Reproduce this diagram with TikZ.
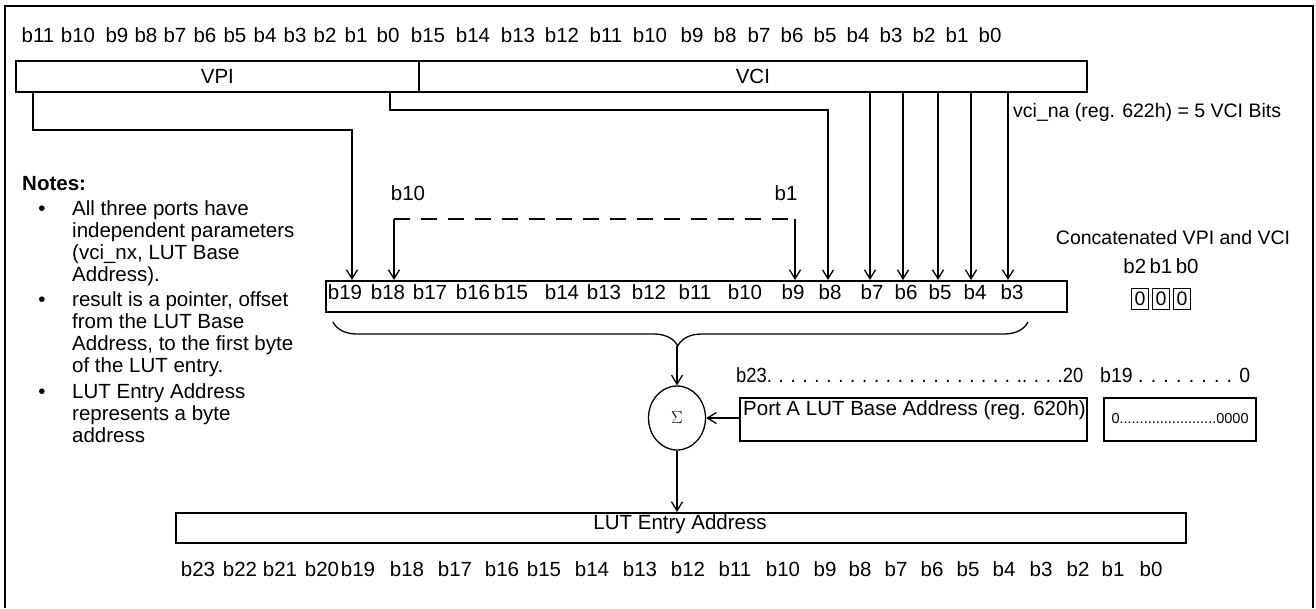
\documentclass[tikz,border=0pt]{standalone}
\usepackage{fontspec}
\setmainfont{Liberation Sans}
\usetikzlibrary{arrows.meta,decorations.pathreplacing,shapes.geometric}
\newcommand\fs{\fontsize{20.5}{23}\selectfont}
\newcommand\fsm{\fontsize{19.5}{22}\selectfont}
\begin{document}
\begin{tikzpicture}[x=1pt,y=-1pt,
  box/.style={draw,line width=1.8pt,inner sep=0pt,font=\fs},
  lbl/.style={inner sep=0pt,anchor=mid,font=\fs},
  ltxt/.style={inner sep=0pt,anchor=mid west,font=\fs},
  arr/.style={line width=1.3pt,-{Straight Barb[length=9pt,width=11pt]}},
  dashpat/.style={line width=1.3pt,dash pattern=on 16pt off 11pt}]
\useasboundingbox (0,0) rectangle (1316,608);
% outer frame (open at bottom)
\draw[line width=2.2pt] (5,608) -- (5,6) -- (1313,6) -- (1313,608);

% top bit labels
\foreach \n/\x in {11/38,10/78,9/117,8/146,7/175,6/205,5/235,4/265,3/295,2/325,1/356,0/388}
  \node[lbl] (pv\n) at (\x,40) {b\n};
\foreach \n/\x in {15/428,14/473,13/518,12/562,11/606,10/650,9/692,8/725,7/759,6/792,5/825,4/858,3/891,2/924,1/957,0/990}
  \node[lbl] (cv\n) at (\x,40) {b\n};

% VPI / VCI register
\node[box,anchor=north west,minimum width=403pt,minimum height=31pt] (vpi) at (15,60) {VPI};
\node[box,anchor=north west,minimum width=668pt,minimum height=31pt] (vci) at (418,60) {VCI};

\node[ltxt,font=\fsm] (vcina) at (1013,115) {vci\_na (reg. 622h) = 5 VCI Bits};

% concatenated register
\node[box,anchor=north west,minimum width=741pt,minimum height=31pt] (reg) at (325,280) {};
\foreach \n/\x in {19/345,18/388,17/430,16/473,15/511,14/562,13/604,12/649,11/695,10/745,9/793,8/830,7/872,6/906,5/940,4/975,3/1012}
  \node[lbl] (rg\n) at (\x,297) {b\n};

% tap coordinates
\coordinate (xa) at (33,0);
\coordinate (xb) at (352,130);
\coordinate (xc) at (390,0);
\coordinate (xd) at (828,110);
\foreach \i/\x in {1/870,2/903,3/938,4/971,5/1008}
  \coordinate (v\i) at (\x,0);
\coordinate (d1) at (394,219);
\coordinate (d2) at (795,219);

% connectors VPI
\draw[arr] (vpi.south -| xa) |- (xb) -- (reg.north -| xb);
\draw[arr] (vpi.south -| xc) |- (xd) -- (reg.north -| xd);
% VCI bits
\foreach \i in {1,...,5}
  \draw[arr] (vci.south -| v\i) -- (reg.north -| v\i);
% dashed range
\draw[dashpat] (d1) -- (d2);
\draw[arr] (d1) -- (reg.north -| d1);
\draw[arr] (d2) -- (reg.north -| d2);
\node[lbl] (lb10) at (408,198) {b10};
\node[lbl] (lb1) at (786,198) {b1};

% concatenated VPI and VCI
\node[lbl,font=\fsm] (cat) at (1173,242) {Concatenated VPI and VCI};
\node[lbl] (b210) at (1161,271) {b2\,b1\,b0};
\foreach \i/\x in {1/1140,2/1161,3/1182}
  \node[draw,line width=1.6pt,inner sep=0pt,minimum width=17pt,minimum height=21pt,font=\fsm] (z\i) at (\x,299) {0};

% brace
\draw[line width=1.3pt,decorate,decoration={brace,mirror,amplitude=24pt,aspect=0.496}] (333,322) -- (1028,322);
\coordinate (btip) at (677,346);

% sigma
\node[draw,ellipse,line width=1.3pt,minimum width=57pt,minimum height=64pt,inner sep=0pt] (sig) at (677,418) {\fontsize{19}{19}\selectfont$\Sigma$};
\draw[arr] (btip) -- (sig.north);

% base address
\node[inner sep=0pt,anchor=mid west,font=\fs] (hdr1) at (736,380) {\resizebox{347pt}{\height}{b23. . . . . . . . . . . . . . . . . . . . . .. . . .20}};
\node[inner sep=0pt,anchor=mid west,font=\fs] (hdr2) at (1100,380) {\resizebox{150pt}{\height}{b19 . . . . . . . . 0}};
\node[box,anchor=north west,minimum width=347pt,minimum height=43pt] (pa) at (739,397) {};
\node[ltxt] (patxt) at (743,413) {Port A LUT Base Address (reg. 620h)};
\node[box,anchor=north west,minimum width=152pt,minimum height=43pt] (zb) at (1103,397) {};
\node[lbl,font=\fontsize{14.5}{16}\selectfont] (zbt) at (1180,421) {0........................0000};
\draw[arr] (pa.west |- sig.east) -- (sig.east);

% LUT entry address
\node[box,anchor=north west,minimum width=1010pt,minimum height=30pt] (lut) at (175,512) {};
\node[lbl] (luttxt) at (680,527) {LUT Entry Address};
\draw[arr] (sig.south) -- (sig.south |- lut.north);
\foreach \n/\x in {23/198,22/240,21/280,20/322,19/358,18/407,17/455,16/502,15/544,14/592,13/640,12/688,11/735,10/783,9/825,8/860,7/896,6/932,5/968,4/1004,3/1041,2/1078,1/1113,0/1151}
  \node[lbl] (bt\n) at (\x,574) {b\n};

% notes
\node[ltxt,font=\fs\bfseries] (notes) at (22,188) {Notes:};
\node[lbl] (bul1) at (42,213) {•};
\node[lbl] (bul2) at (42,304) {•};
\node[lbl] (bul3) at (42,396) {•};
\node[ltxt] (n1) at (72,213) {All three ports have};
\node[ltxt] (n2) at (72,235) {independent parameters};
\node[ltxt] (n3) at (72,257) {(vci\_nx, LUT Base};
\node[ltxt] (n4) at (72,279) {Address).};
\node[ltxt] (n5) at (72,304) {result is a pointer, offset};
\node[ltxt] (n6) at (72,326) {from the LUT Base};
\node[ltxt] (n7) at (72,348) {Address, to the first byte};
\node[ltxt] (n8) at (72,370) {of the LUT entry.};
\node[ltxt] (n9) at (72,396) {LUT Entry Address};
\node[ltxt] (n10) at (72,418) {represents a byte};
\node[ltxt] (n11) at (72,440) {address};
\end{tikzpicture}
\end{document}
